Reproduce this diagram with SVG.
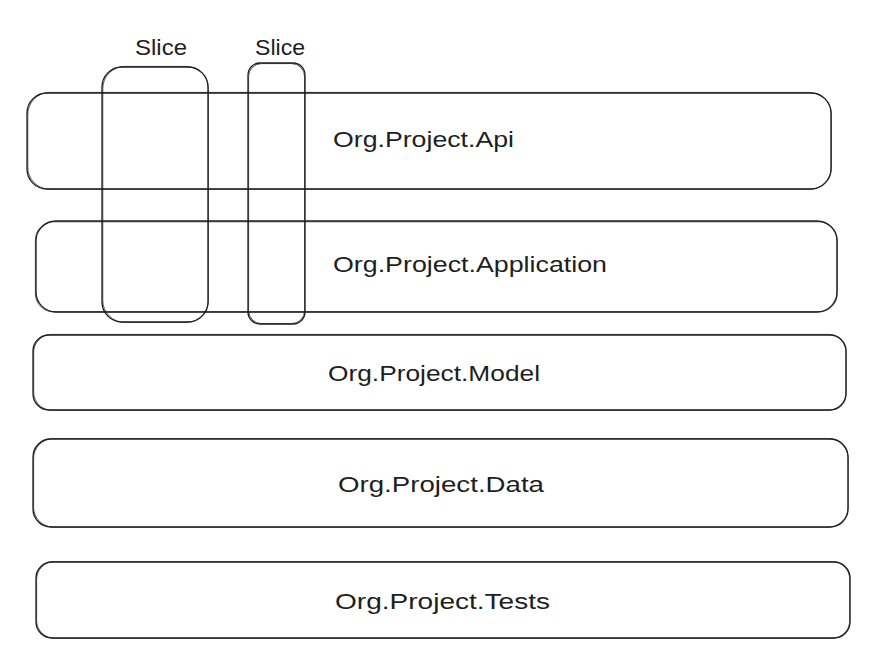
<svg xmlns="http://www.w3.org/2000/svg" width="881" height="670" viewBox="0 0 881 670">
<style>
.s{fill:none;stroke:#1e1e1e;stroke-width:1.3;stroke-linecap:round;stroke-linejoin:round}
.s2{fill:none;stroke:#1e1e1e;stroke-width:0.9;stroke-opacity:0.8}
.t{font-family:"Liberation Sans","Open Sans",sans-serif;font-size:22px;fill:#1e1e1e}
</style>
<rect width="881" height="670" fill="#ffffff"/>
<g id="layer-api">
<rect class="s" x="27" y="93" width="804" height="96" rx="20"/>
<rect class="s2" x="27.8" y="92.4" width="803.6" height="96.8" rx="22"/>
<text class="t" x="333" y="147" textLength="181" lengthAdjust="spacingAndGlyphs">Org.Project.Api</text>
</g>
<g id="layer-application">
<rect class="s" x="36" y="221" width="801" height="91" rx="20"/>
<rect class="s2" x="35.4" y="221.8" width="801.8" height="90" rx="18"/>
<text class="t" x="333" y="272" textLength="274" lengthAdjust="spacingAndGlyphs">Org.Project.Application</text>
</g>
<g id="layer-model">
<rect class="s" x="33" y="335" width="813" height="75" rx="16"/>
<rect class="s2" x="33.7" y="334.4" width="812.4" height="75.8" rx="18"/>
<text class="t" x="328" y="381" textLength="212" lengthAdjust="spacingAndGlyphs">Org.Project.Model</text>
</g>
<g id="layer-data">
<rect class="s" x="33" y="439" width="815" height="88" rx="18"/>
<rect class="s2" x="33.6" y="438.5" width="814.6" height="88.7" rx="20"/>
<text class="t" x="338" y="492" textLength="206" lengthAdjust="spacingAndGlyphs">Org.Project.Data</text>
</g>
<g id="layer-tests">
<rect class="s" x="36" y="562" width="814" height="76" rx="16"/>
<rect class="s2" x="36.6" y="561.5" width="813.2" height="76.8" rx="18"/>
<text class="t" x="335" y="609" textLength="215" lengthAdjust="spacingAndGlyphs">Org.Project.Tests</text>
</g>
<g id="slice-1">
<rect class="s" x="102" y="67" width="106" height="255" rx="20"/>
<rect class="s2" x="102.8" y="66.4" width="105.6" height="256" rx="22"/>
<text class="t" x="135" y="55" textLength="52" lengthAdjust="spacingAndGlyphs">Slice</text>
</g>
<g id="slice-2">
<rect class="s" x="248" y="63" width="57" height="261" rx="12"/>
<rect class="s2" x="248.6" y="63.6" width="56" height="260" rx="13"/>
<text class="t" x="255" y="55" textLength="50" lengthAdjust="spacingAndGlyphs">Slice</text>
</g>
<g id="connectors"/>
</svg>
